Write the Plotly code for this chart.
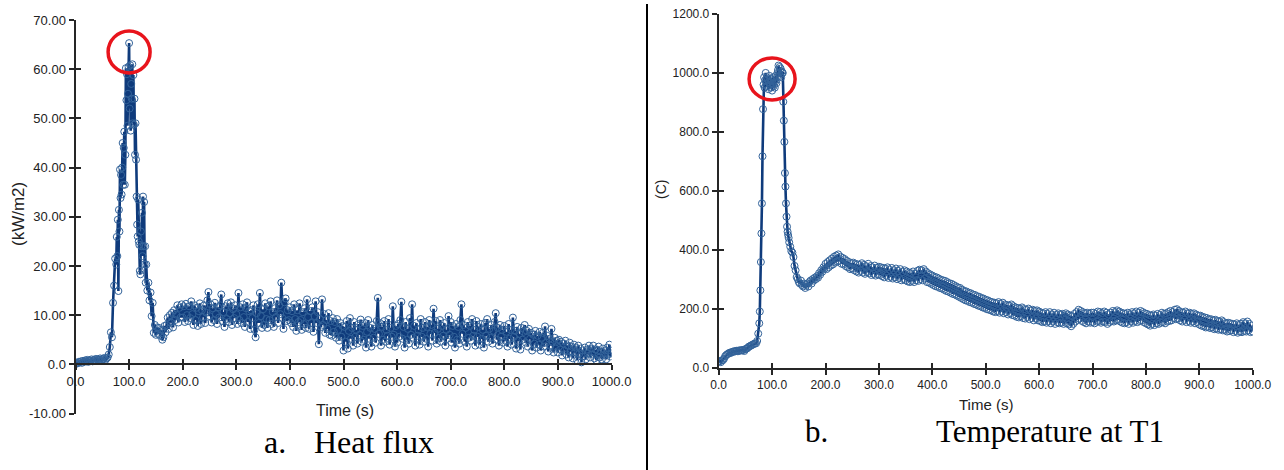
import plotly.graph_objects as go

W, H = 1284, 470

# ---------------- time grid (s) ----------------
time_a = list(range(0, 76, 2))        # 0..74
time_b = list(range(76, 132, 1))      # 76..131
time_c = list(range(132, 200, 2))     # 132..198
time_d = list(range(200, 1001, 2))    # 200..1000
time_s = time_a + time_b + time_c + time_d

# ---------------- heat flux (kW/m2) ----------------
flux_a = [0.1, 0.3, 0.2, 0.5, 0.4, 0.6, 0.3, 0.7, 0.5, 0.8, 0.6, 0.9, 0.5, 0.8, 0.7, 1.0,
          0.6, 0.9, 0.8, 1.1, 0.7, 1.0, 0.9, 1.2, 0.8, 1.1, 1.0, 1.3, 0.9, 1.2, 1.4, 2.0,
          3.5, 6.5, 5.5, 12.5, 16.0, 21.5]
flux_b = [20.3, 25.9, 22.0, 29.4, 14.9, 31.4, 27.0, 39.6, 33.8, 38.5, 34.5, 40.0, 45.0, 36.5,
          44.0, 47.3, 36.5, 42.6, 60.2, 53.7, 59.0, 48.5, 55.0, 60.5, 65.3, 52.0, 60.8, 47.5,
          57.0, 54.0, 61.0, 49.0, 58.8, 48.7, 54.0, 42.6, 49.0, 41.6, 34.1, 28.4, 26.0, 33.5,
          25.0, 24.3, 19.0, 18.3, 27.0, 24.0, 30.8, 22.0, 34.1, 24.0, 33.0, 20.3, 24.0, 16.6]
flux_c = [20.3, 15.0, 16.6, 13.0, 14.6, 9.8, 12.5, 6.4, 8.0, 6.0, 7.5, 6.2, 7.4, 5.8, 7.0, 5.0,
          5.5, 7.8, 6.5, 8.0, 9.5, 7.2, 10.0, 8.5, 10.5, 7.5, 11.0, 9.0, 10.1, 12.0, 8.5, 11.5,
          9.5, 12.2]
flux_d = [
    9.5, 11.8, 8.6, 12.3, 10.0, 8.8, 11.8, 9.4, 12.8, 10.2, 8.0, 12.0, 9.0, 11.5, 7.8, 10.8,
    12.4, 8.2, 11.0, 9.6, 12.0, 8.4, 10.5, 13.0, 14.7,
    9.8, 12.2, 8.5, 11.4, 9.0, 12.5, 10.2, 8.2, 11.6, 9.5, 12.0, 14.2, 8.8, 10.6, 7.6, 11.8,
    9.2, 12.4, 8.6, 10.4, 12.6, 8.0, 11.2, 9.4, 12.0,
    10.2, 8.2, 14.5, 9.0, 11.6, 8.4, 12.2, 9.6, 7.6, 11.4, 12.6, 8.6, 10.8, 7.2, 11.0, 9.4,
    12.0, 7.0, 5.5, 10.4, 12.2, 8.4, 14.5, 9.8, 7.4,
    11.2, 8.0, 12.4, 9.2, 7.4, 11.8, 9.0, 12.8, 8.2, 10.6, 7.6, 11.4, 9.6, 13.0, 8.4, 12.0,
    10.2, 16.6, 9.4, 7.2, 12.6, 13.4, 8.8, 11.0, 9.0,
    11.6, 8.4, 10.8, 7.6, 12.2, 9.2, 6.8, 11.0, 8.6, 12.4, 9.0, 7.0, 10.6, 8.2, 11.4, 7.4,
    13.2, 9.6, 7.2, 10.8, 8.4, 11.6, 6.6, 9.8, 12.8,
    8.4, 10.6, 4.1, 9.2, 7.6, 13.2, 8.0, 10.2, 6.4, 9.0, 7.2, 10.4, 6.0, 8.8, 5.8, 9.4,
    6.6, 8.6, 5.4, 9.2, 7.0, 4.8, 8.4, 5.6, 7.8,
    2.8, 7.6, 4.6, 8.8, 3.2, 6.8, 9.4, 5.2, 7.4, 3.8, 8.6, 5.6, 7.0, 4.2, 8.2, 6.0,
    9.1, 4.6, 7.8, 5.0, 8.4, 3.4, 6.6, 9.0, 5.2,
    7.4, 3.6, 8.0, 5.4, 7.2, 4.4, 8.8, 13.5, 6.2, 8.4, 3.8, 7.6, 5.0, 8.8, 4.6, 7.0,
    5.8, 9.2, 4.0, 7.4, 5.6, 11.8, 6.0, 3.6, 7.8,
    4.4, 8.2, 5.6, 9.0, 12.7, 5.2, 7.6, 3.4, 8.6, 5.0, 7.2, 4.2, 9.4, 6.0, 12.2, 5.4,
    7.8, 3.8, 8.4, 5.8, 7.0, 4.0, 9.2, 5.6, 7.4,
    4.6, 8.6, 5.2, 7.6, 3.6, 9.0, 6.2, 8.0, 4.8, 11.3, 6.4, 8.8, 4.2, 7.2, 5.4, 9.0,
    4.6, 7.8, 5.8, 8.4, 3.8, 7.0, 5.2, 9.8, 6.0,
    8.6, 4.4, 7.8, 5.6, 3.4, 8.2, 5.0, 7.6, 4.2, 9.0, 12.2, 6.2, 8.0, 4.6, 7.4, 3.6,
    8.6, 5.4, 7.8, 4.8, 9.2, 5.8, 7.0, 3.8, 8.8,
    5.6, 7.6, 4.0, 8.2, 5.2, 7.0, 3.4, 8.4, 5.8, 9.2, 4.6, 7.2, 5.4, 8.0, 4.2, 6.8,
    8.6, 10.4, 5.0, 7.4, 3.8, 8.0, 5.6, 7.0, 4.4,
    7.8, 4.8, 6.6, 3.6, 8.2, 5.2, 7.0, 4.0, 9.5, 5.6, 6.8, 3.2, 7.6, 4.8, 6.2, 3.0,
    7.4, 5.0, 6.6, 8.0, 4.4, 6.8, 3.6, 7.2, 5.2,
    6.4, 2.8, 6.0, 4.2, 6.8, 3.4, 5.8, 4.0, 6.6, 2.8, 5.4, 6.4, 3.6, 7.7, 4.4, 5.8,
    2.6, 5.2, 3.8, 7.2, 4.6, 2.4, 5.4, 3.2, 4.8,
    2.4, 5.0, 3.0, 4.6, 1.8, 4.2, 2.8, 4.8, 2.0, 3.8, 1.4, 4.4, 2.6, 3.6, 1.2, 4.0,
    2.4, 3.4, 0.8, 3.8, 2.2, 3.2, 0.4, 2.8, 1.6,
    3.4, 1.0, 3.0, 2.2, 3.8, 1.4, 3.2, 2.0, 3.8, 1.2, 3.0, 0.8, 2.8, 3.6, 1.4, 2.6,
    1.0, 3.2, 1.8, 2.8, 1.0, 3.4, 2.0, 4.0, 1.6,
    2.2]
heat_flux = flux_a + flux_b + flux_c + flux_d

# ---------------- temperature at T1 (C) ----------------
temp_a = [20, 22, 18, 24, 25, 30, 38, 42, 45, 47, 50, 49, 52, 53, 55, 54, 56, 57, 55, 58,
          57, 59, 58, 60, 56, 62, 64, 66, 70, 72, 74, 76, 78, 80, 82, 82, 90, 115]
temp_b = [150, 190, 262, 358, 455, 557, 717, 877, 960, 985, 950, 975, 1000, 960, 985, 955,
          975, 945, 970, 990, 960, 980, 950, 975, 940, 965, 985, 955, 975, 950, 970, 990,
          965, 985, 1000, 1010, 1025, 1000, 1020, 990, 1015, 985, 1005, 1000, 1000, 902,
          838, 766, 660, 614, 557, 512, 478, 461, 450, 440]
temp_c = [425, 410, 395, 390, 375, 345, 330, 307, 300, 290, 285, 295, 280, 275, 285, 270,
          280, 285, 275, 290, 295, 285, 300, 295, 305, 300, 310, 305, 320, 315, 330, 325,
          340, 335]
temp_d = [
    352, 334, 358, 340, 364, 346, 370, 350, 376, 356, 380, 360, 384, 362, 376, 352, 372,
    350, 368, 344, 362, 340, 358, 334, 354,
    336, 356, 330, 352, 326, 350, 322, 348, 328, 354, 322, 348, 318, 344, 324, 352, 320,
    344, 314, 340, 318, 346, 312, 338, 316,
    342, 314, 340, 310, 338, 306, 336, 312, 340, 304, 332, 308, 338, 302, 330, 306, 336,
    300, 328, 304, 334, 296, 324, 300, 330,
    296, 326, 292, 322, 290, 320, 294, 326, 290, 318, 296, 328, 294, 332, 300, 330, 296,
    334, 302, 326, 290, 320, 288, 316, 284,
    312, 280, 308, 276, 306, 274, 302, 270, 298, 268, 296, 264, 294, 260, 290, 258, 286,
    254, 284, 250, 280, 248, 276, 244, 272,
    240, 270, 236, 264, 232, 260, 228, 258, 226, 254, 222, 252, 220, 248, 216, 246, 214,
    242, 210, 240, 208, 236, 204, 234, 202,
    230, 198, 228, 196, 224, 194, 222, 190, 220, 188, 218, 192, 222, 186, 216, 190, 220,
    184, 214, 188, 212, 180, 210, 184, 214,
    178, 208, 176, 204, 172, 202, 170, 200, 174, 204, 168, 198, 166, 196, 172, 200, 164,
    194, 168, 196, 160, 192, 166, 194, 160,
    190, 158, 186, 154, 184, 156, 188, 152, 182, 158, 188, 150, 180, 156, 186, 148, 178,
    154, 184, 150, 180, 152, 182, 148, 176,
    184, 150, 180, 146, 176, 140, 174, 148, 182, 156, 188, 162, 196, 166, 192, 158, 188,
    154, 184, 150, 186, 156, 182, 152, 186,
    154, 186, 150, 182, 156, 190, 158, 188, 152, 184, 156, 190, 154, 186, 148, 180, 154,
    186, 158, 192, 156, 188, 160, 194, 162,
    190, 156, 186, 152, 184, 150, 182, 154, 186, 148, 180, 156, 188, 152, 184, 158, 190,
    154, 186, 158, 192, 160, 188, 154, 184,
    150, 182, 146, 178, 142, 176, 148, 180, 144, 176, 150, 182, 148, 178, 152, 186, 154,
    182, 150, 184, 156, 188, 158, 192, 160,
    188, 168, 196, 164, 198, 166, 192, 160, 188, 156, 186, 162, 190, 154, 184, 158, 186,
    152, 182, 156, 184, 150, 180, 154, 176,
    146, 176, 142, 172, 140, 170, 136, 168, 138, 164, 134, 164, 136, 160, 130, 162, 132,
    158, 128, 156, 130, 160, 126, 154, 128,
    150, 122, 152, 124, 150, 126, 148, 120, 146, 124, 150, 118, 144, 122, 148, 120, 154,
    124, 150, 122, 156, 126, 148, 120, 142,
    122]
temperature = temp_a + temp_b + temp_c + temp_d

assert len(heat_flux) == len(time_s), (len(heat_flux), len(time_s))
assert len(temperature) == len(time_s), (len(temperature), len(time_s))

# ---------------- tick labels ----------------
x_tickvals = [0, 100, 200, 300, 400, 500, 600, 700, 800, 900, 1000]
x_ticktext = ["0.0", "100.0", "200.0", "300.0", "400.0", "500.0", "600.0", "700.0",
              "800.0", "900.0", "1000.0"]
flux_tickvals = [-10, 0, 10, 20, 30, 40, 50, 60, 70]
flux_ticktext = ["-10.00", "0.0", "10.00", "20.00", "30.00", "40.00", "50.00", "60.00", "70.00"]
temp_tickvals = [0, 200, 400, 600, 800, 1000, 1200]
temp_ticktext = ["0.0", "200.0", "400.0", "600.0", "800.0", "1000.0", "1200.0"]

# ---------------- styling / geometry ----------------
LINE_COL = "#0f3b7c"
MARK_COL = "#33639a"
AX_COL = "#262626"
SANS = "Liberation Sans, Arial, sans-serif"
SERIF = "Liberation Serif, Times New Roman, serif"


def px_x(p):
    return p / W


def px_y(p):
    return 1 - p / H


L_XDOM = [px_x(75.5), px_x(611.5)]
L_YDOM = [px_y(413.5), px_y(20)]
R_XDOM = [px_x(718.7), px_x(1252.7)]
R_YDOM = [px_y(367.5), px_y(14)]
L_ZERO = L_YDOM[0] + (L_YDOM[1] - L_YDOM[0]) * (10 / 80)

fig = go.Figure()

trace_style = dict(
    mode="lines+markers",
    line=dict(color=LINE_COL, width=2.6),
    marker=dict(symbol="circle-open", size=7, color=MARK_COL, line=dict(width=1)),
    showlegend=False,
)
fig.add_trace(go.Scatter(x=time_s, y=heat_flux, xaxis="x", yaxis="y", **trace_style))
fig.add_trace(go.Scatter(x=time_s, y=temperature, xaxis="x2", yaxis="y2", **trace_style))
# invisible helpers for the inner half of the cross ticks
fig.add_trace(go.Scatter(x=[None], y=[None], xaxis="x3", yaxis="y3", showlegend=False))
fig.add_trace(go.Scatter(x=[None], y=[None], xaxis="x4", yaxis="y4", showlegend=False))

axis_common = dict(showgrid=False, zeroline=False, showline=True, linecolor=AX_COL,
                   linewidth=2, tickcolor=AX_COL, tickwidth=2, ticklen=5, ticks="outside",
                   tickfont=dict(family=SANS, size=13, color="#222"), tickmode="array",
                   automargin=False)
inner_common = dict(showgrid=False, zeroline=False, showline=False, showticklabels=False,
                    tickcolor=AX_COL, tickwidth=2, ticklen=5, ticks="inside", tickmode="array",
                    automargin=False)

fig.update_layout(
    width=W, height=H, autosize=False,
    margin=dict(l=0, r=0, t=0, b=0, pad=0),
    paper_bgcolor="white", plot_bgcolor="rgba(0,0,0,0)",
    xaxis=dict(axis_common, domain=L_XDOM, range=[0, 1000], anchor="free", position=L_ZERO,
               tickvals=x_tickvals, ticktext=x_ticktext),
    yaxis=dict(axis_common, domain=L_YDOM, range=[-10, 70], anchor="x",
               tickvals=flux_tickvals, ticktext=flux_ticktext),
    xaxis2=dict(axis_common, domain=R_XDOM, range=[0, 1000], anchor="y2",
                tickvals=x_tickvals, ticktext=x_ticktext,
                tickfont=dict(family=SANS, size=12, color="#222")),
    yaxis2=dict(axis_common, domain=R_YDOM, range=[0, 1200], anchor="x2",
                tickvals=temp_tickvals, ticktext=temp_ticktext,
                tickfont=dict(family=SANS, size=12, color="#222")),
    xaxis3=dict(inner_common, domain=L_XDOM, range=[0, 1000], anchor="free", position=L_ZERO,
                tickvals=x_tickvals),
    yaxis3=dict(inner_common, domain=L_YDOM, range=[-10, 70], anchor="x3",
                tickvals=flux_tickvals),
    xaxis4=dict(inner_common, domain=R_XDOM, range=[0, 1000], anchor="y4",
                tickvals=x_tickvals),
    yaxis4=dict(inner_common, domain=R_YDOM, range=[0, 1200], anchor="x4",
                tickvals=temp_tickvals),
)

# red circles around the peaks (pixel-sized, anchored on the data)
i_peak = max(range(len(heat_flux)), key=lambda i: heat_flux[i])
fig.add_shape(type="circle", xref="x", yref="y", xsizemode="pixel", ysizemode="pixel",
              xanchor=time_s[i_peak], yanchor=heat_flux[i_peak] - 1.8,
              x0=-21, x1=21, y0=-21, y1=21, line=dict(color="#e8141c", width=3.5))
plateau = [i for i, v in enumerate(temperature) if v >= 940]
t_mid = sum(time_s[i] for i in plateau) / len(plateau)
v_mid = sum(temperature[i] for i in plateau) / len(plateau)
fig.add_shape(type="circle", xref="x2", yref="y2", xsizemode="pixel", ysizemode="pixel",
              xanchor=t_mid - 2, yanchor=v_mid, x0=-23, x1=23, y0=-21, y1=21,
              line=dict(color="#e8141c", width=3.5))

# divider between panels
fig.add_shape(type="line", xref="paper", yref="paper", x0=px_x(647), x1=px_x(647),
              y0=0, y1=px_y(4), line=dict(color="black", width=2))

ann = []
ann.append(dict(text="(kW/m2)", x=px_x(18), y=px_y(214), textangle=-90,
                font=dict(family=SANS, size=17, color="#222")))
ann.append(dict(text="Time (s)", x=px_x(345), y=px_y(410),
                font=dict(family=SANS, size=16, color="#222")))
ann.append(dict(text="(C)", x=px_x(661), y=px_y(190), textangle=-90,
                font=dict(family=SANS, size=14, color="#222")))
ann.append(dict(text="Time (s)", x=px_x(986), y=px_y(404),
                font=dict(family=SANS, size=15, color="#222")))
ann.append(dict(text="a.", x=px_x(275), y=px_y(442),
                font=dict(family=SERIF, size=32, color="black")))
ann.append(dict(text="Heat flux", x=px_x(374), y=px_y(442),
                font=dict(family=SERIF, size=32, color="black")))
ann.append(dict(text="b.", x=px_x(816), y=px_y(431),
                font=dict(family=SERIF, size=31, color="black")))
ann.append(dict(text="Temperature at T1", x=px_x(1050), y=px_y(431),
                font=dict(family=SERIF, size=31, color="black")))
for a in ann:
    a.update(xref="paper", yref="paper", showarrow=False, xanchor="center", yanchor="middle")
fig.update_layout(annotations=ann)

fig.write_html("out.html", config={"displayModeBar": False},
               post_script="document.body.style.margin='0px';document.body.style.overflow='hidden';")
